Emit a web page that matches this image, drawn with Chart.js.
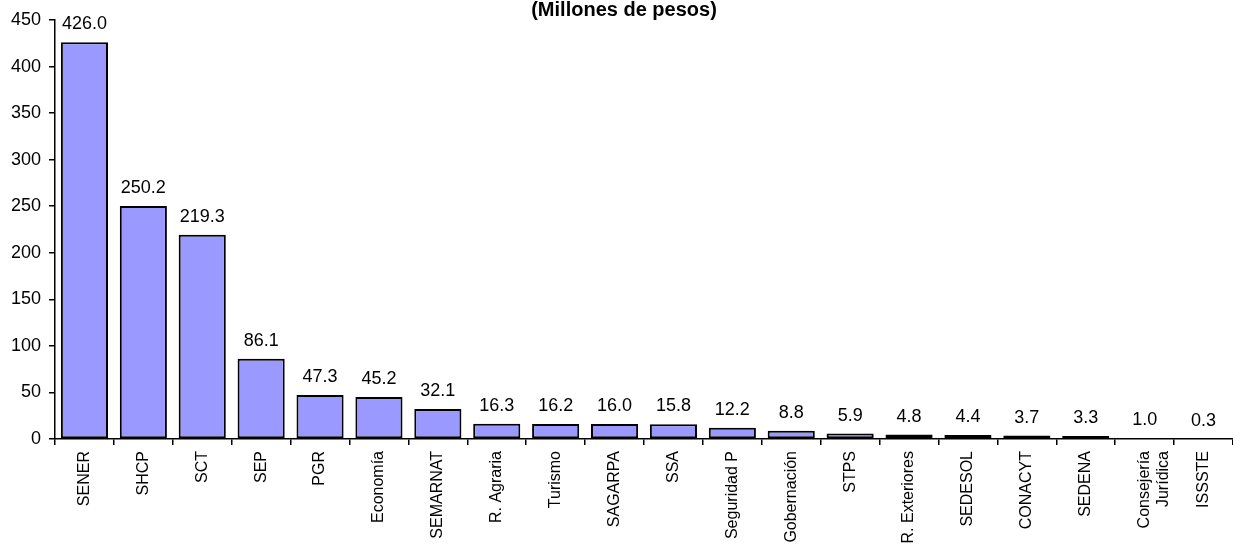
<!DOCTYPE html>
<html>
<head>
<meta charset="utf-8">
<script src="https://cdn.jsdelivr.net/npm/chart.js@4"></script>
<style>
  html, body { margin: 0; padding: 0; background: #fff; }
  #wrap { width: 1233px; height: 544px; position: relative; }
</style>
</head>
<body>
<div id="wrap"><canvas id="barChart"></canvas></div>
<script>
// Dependencias y montos (millones de pesos)
const dependencias = ['SENER', 'SHCP', 'SCT', 'SEP', 'PGR', 'Economía', 'SEMARNAT', 'R. Agraria',
    'Turismo', 'SAGARPA', 'SSA', 'Seguridad P', 'Gobernación', 'STPS', 'R. Exteriores',
    'SEDESOL', 'CONACYT', 'SEDENA', ['Consejería', 'Jurídica'], 'ISSSTE'];
const montos = [426.0, 250.2, 219.3, 86.1, 47.3, 45.2, 32.1, 16.3, 16.2, 16.0, 15.8, 12.2,
    8.8, 5.9, 4.8, 4.4, 3.7, 3.3, 1.0, 0.3];
const yTicks = [0, 50, 100, 150, 200, 250, 300, 350, 400, 450];
const subtitulo = '(Millones de pesos)';

const FONT = 'Liberation Sans, Arial, sans-serif';

// Etiquetas de valor encima de cada barra
const valueLabels = {
    id: 'valueLabels',
    afterDatasetsDraw(chart) {
        const ctx = chart.ctx;
        const meta = chart.getDatasetMeta(0);
        ctx.save();
        ctx.font = '18px ' + FONT;
        ctx.fillStyle = '#000';
        ctx.textAlign = 'center';
        ctx.textBaseline = 'alphabetic';
        meta.data.forEach((bar, i) => {
            ctx.fillText(montos[i].toFixed(1), bar.x, bar.y - 13);
        });
        ctx.restore();
    }
};

// Subtitulo en la parte superior
const topTitle = {
    id: 'topTitle',
    afterDraw(chart) {
        const ctx = chart.ctx;
        ctx.save();
        ctx.font = 'bold 20px ' + FONT;
        ctx.fillStyle = '#000';
        ctx.textAlign = 'center';
        ctx.textBaseline = 'middle';
        ctx.fillText(subtitulo, 624, 10);
        ctx.restore();
    }
};

new Chart(document.getElementById('barChart'), {
    type: 'bar',
    data: {
        labels: dependencias,
        datasets: [{
            data: montos,
            backgroundColor: '#9999FF',
            borderColor: '#000000',
            borderWidth: 2,
            borderSkipped: false,
            categoryPercentage: 0.8,
            barPercentage: 1.0
        }]
    },
    options: {
        responsive: true,
        maintainAspectRatio: false,
        animation: false,
        layout: { padding: { top: 20, right: 0, left: 0, bottom: 0 } },
        plugins: {
            legend: { display: false },
            tooltip: { enabled: false }
        },
        scales: {
            x: {
                grid: { display: true, drawOnChartArea: false, drawTicks: true, tickLength: 6, color: '#000', lineWidth: 1.5 },
                border: { color: '#000', width: 1.5 },
                ticks: {
                    color: '#000',
                    font: { family: FONT, size: 16 },
                    minRotation: 90,
                    maxRotation: 90,
                    autoSkip: false,
                    padding: 6
                },
                afterFit(scale) { scale.height = 105; }
            },
            y: {
                min: 0,
                max: 450,
                afterBuildTicks(scale) { scale.ticks = yTicks.map(v => ({ value: v })); },
                grid: { display: true, drawOnChartArea: false, drawTicks: true, tickLength: 6, color: '#000', lineWidth: 1.5 },
                border: { color: '#000', width: 1.5 },
                ticks: {
                    color: '#000',
                    font: { family: FONT, size: 18 },
                    padding: 8
                },
                afterFit(scale) { scale.width = 55; }
            }
        }
    },
    plugins: [valueLabels, topTitle]
});
</script>
</body>
</html>
